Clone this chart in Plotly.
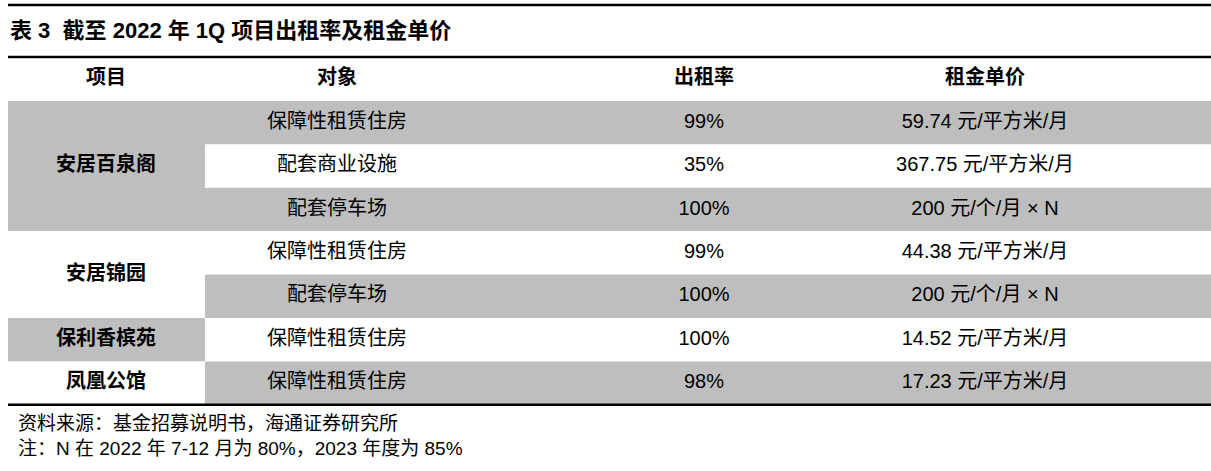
import plotly.graph_objects as go

# table data
title = "表 3  截至 2022 年 1Q 项目出租率及租金单价"
headers = ["项目", "对象", "出租率", "租金单价"]
projects = ["安居百泉阁", "安居锦园", "保利香槟苑", "凤凰公馆"]
project_rows = [3, 2, 1, 1]
objects = ["保障性租赁住房", "配套商业设施", "配套停车场", "保障性租赁住房",
           "配套停车场", "保障性租赁住房", "保障性租赁住房"]
occupancy = ["99%", "35%", "100%", "99%", "100%", "100%", "98%"]
rent = ["59.74 元/平方米/月", "367.75 元/平方米/月", "200 元/个/月 × N",
        "44.38 元/平方米/月", "200 元/个/月 × N", "14.52 元/平方米/月",
        "17.23 元/平方米/月"]
notes = ["资料来源：基金招募说明书，海通证券研究所",
         "注：N 在 2022 年 7-12 月为 80%，2023 年度为 85%"]

# layout (pixels)
W, H = 1211, 471
left, right = 8, 1211
col_split = 205
col_centers = [106, 337, 704, 985]
head_top, body_top, row_h = 57, 101, 43.4
gray = "#BEBEBE"
FONT = "Liberation Sans, Arial, Noto Sans CJK SC"

fig = go.Figure()
shapes = []

# right-side row stripes
for i in range(len(objects)):
    y0 = body_top + i * row_h
    shapes.append(dict(type="rect", x0=col_split, x1=right, y0=y0, y1=y0 + row_h,
                       fillcolor=gray if i % 2 == 0 else "white", line_width=0, layer="below"))

# project blocks (merged cells)
proj_y = []
start = 0
for k, n in enumerate(project_rows):
    y0 = body_top + start * row_h
    y1 = y0 + n * row_h
    shapes.append(dict(type="rect", x0=left, x1=col_split, y0=y0, y1=y1,
                       fillcolor=gray if k % 2 == 0 else "white", line_width=0, layer="below"))
    proj_y.append((y0 + y1) / 2)
    start += n

bottom = body_top + len(objects) * row_h
for y in [5, head_top, bottom]:
    shapes.append(dict(type="line", x0=left, x1=right, y0=y, y1=y,
                       line=dict(color="black", width=2.5)))

row_y = [body_top + (i + 0.5) * row_h for i in range(len(objects))]

# header
fig.add_trace(go.Scatter(x=col_centers, y=[(head_top + body_top) / 2] * 4, mode="text",
                         text=["<b>%s</b>" % h for h in headers],
                         textfont=dict(family=FONT, size=20, color="black"),
                         hoverinfo="skip"))
# project column
fig.add_trace(go.Scatter(x=[col_centers[0]] * len(projects), y=proj_y, mode="text",
                         text=["<b>%s</b>" % p for p in projects],
                         textfont=dict(family=FONT, size=20, color="black"),
                         hoverinfo="skip"))
# body columns
for c, vals in zip(col_centers[1:], [objects, occupancy, rent]):
    fig.add_trace(go.Scatter(x=[c] * len(vals), y=row_y, mode="text", text=vals,
                             textfont=dict(family=FONT, size=20, color="black"),
                             hoverinfo="skip"))

annotations = [dict(x=left, y=30, xref="x", yref="y", xanchor="left", yanchor="middle",
                    text="<b>%s</b>" % title, showarrow=False,
                    font=dict(family=FONT, size=22, color="black"))]
for j, t in enumerate(notes):
    annotations.append(dict(x=16, y=423 + j * 25, xref="x", yref="y", xanchor="left",
                            yanchor="middle", text=t, showarrow=False,
                            font=dict(family=FONT, size=19, color="black")))

fig.update_layout(width=W, height=H, margin=dict(l=0, r=0, t=0, b=0),
                  plot_bgcolor="white", paper_bgcolor="white", showlegend=False,
                  shapes=shapes, annotations=annotations,
                  xaxis=dict(range=[0, W], visible=False, fixedrange=True),
                  yaxis=dict(range=[H, 0], visible=False, fixedrange=True))
fig.write_html("out.html", config={"displayModeBar": False},
               post_script="document.body.style.margin='0';document.body.style.overflow='hidden';")
